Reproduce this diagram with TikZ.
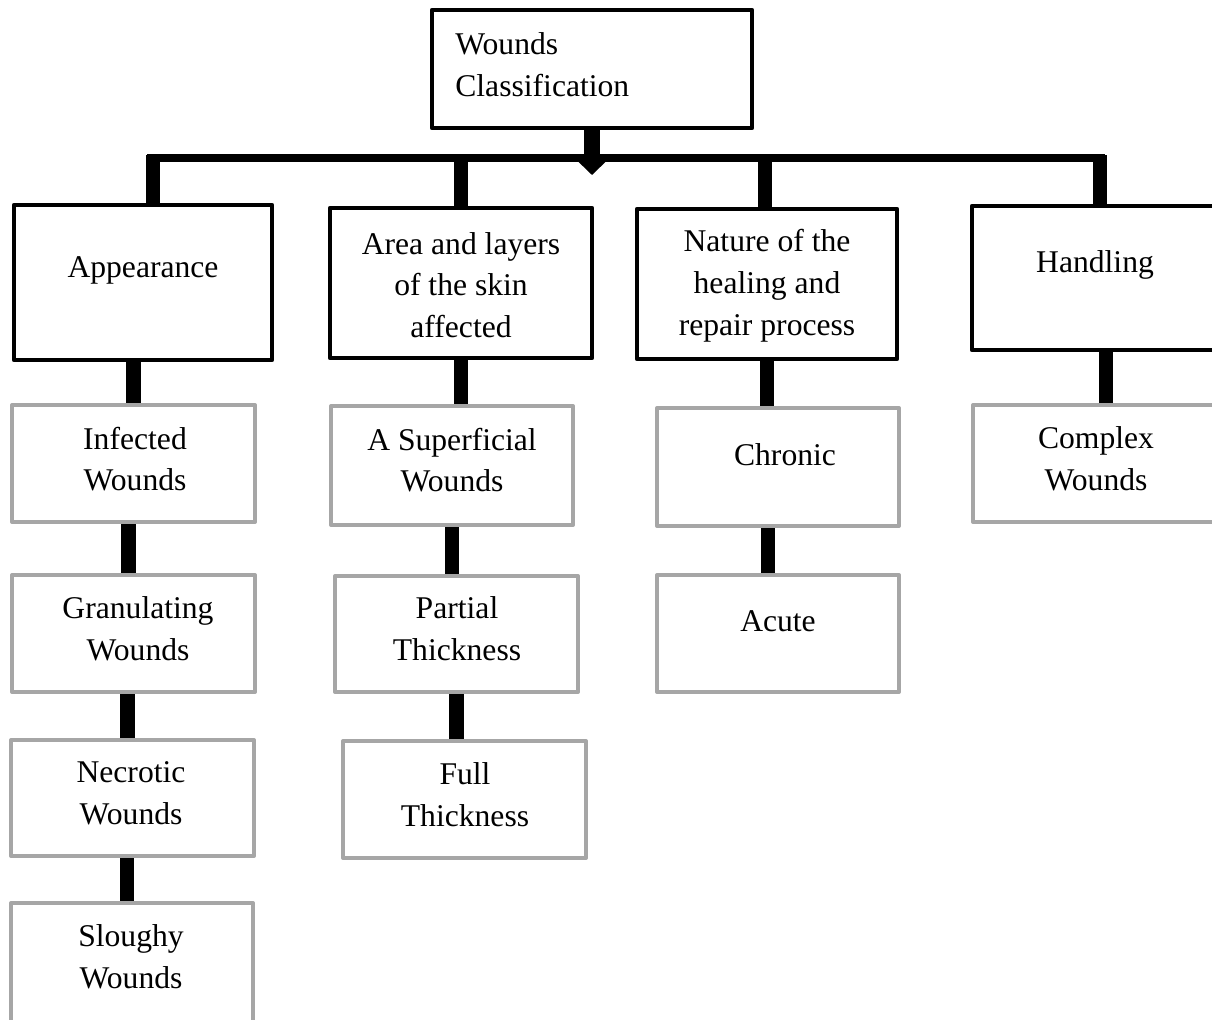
\documentclass[tikz,border=0pt]{standalone}
\usepackage{fontspec}
\setmainfont{Liberation Serif}
\usetikzlibrary{arrows.meta,positioning,fit,calc}

\definecolor{itemgray}{HTML}{A6A6A6}

\begin{document}
\begin{tikzpicture}[
  x=0.02cm, y=-0.02cm,
  font=\fontsize{18}{23.8}\selectfont,
  topbox/.style={draw,line width=2.7pt,line join=round,inner sep=0pt},
  itembox/.style={draw=itemgray,line width=2.3pt,line join=round,inner sep=0pt},
  lbl/.style={align=center,inner sep=0pt},
  link/.style={line width=8pt},
  bus/.style={line width=4.6pt}
]

% -------------------------
% Page
% -------------------------
\useasboundingbox[fill=white] (0,0) rectangle (1212,1019);

% -------------------------
% Boxes (corners in pixels)
% -------------------------
\node[topbox,fit={(432,10) (752,128)}] (root) {};

% categories
\node[topbox,fit={(14,205) (272,360)}]   (cat-app)  {};
\node[topbox,fit={(330,208) (592,358)}]  (cat-area) {};
\node[topbox,fit={(637,209) (897,359)}]  (cat-heal) {};
\node[topbox,fit={(972,206) (1222,350)}] (cat-hand) {};

% column: appearance
\node[itembox,fit={(12,405) (255,522)}]  (app-inf)  {};
\node[itembox,fit={(12,575) (255,692)}]  (app-gran) {};
\node[itembox,fit={(11,740) (254,856)}]  (app-necr) {};
\node[itembox,fit={(11,903) (253,1030)}] (app-slou) {};

% column: area and layers
\node[itembox,fit={(331,406) (573,525)}] (area-sup)  {};
\node[itembox,fit={(335,576) (578,692)}] (area-part) {};
\node[itembox,fit={(343,741) (586,858)}] (area-full) {};

% column: healing
\node[itembox,fit={(657,408) (899,526)}] (heal-chr) {};
\node[itembox,fit={(657,575) (899,692)}] (heal-acu) {};

% column: handling
\node[itembox,fit={(973,405) (1222,522)}] (hand-cpx) {};

% -------------------------
% Texts
% -------------------------
\node[lbl,align=left,anchor=west] at (455,65) {Wounds\\Classification};

\node[lbl] at (143,270) {Appearance};
\node[lbl] at (461,285) {Area and layers\\of the skin\\affected};
\node[lbl] at (767,286) {Nature of the\\healing and\\repair process};
\node[lbl] at (1095,265) {Handling};

\node[lbl] at (135,459) {Infected\\Wounds};
\node[lbl] at (138,629) {Granulating\\Wounds};
\node[lbl] at (131,793) {Necrotic\\Wounds};
\node[lbl] at (131,957) {Sloughy\\Wounds};

\node[lbl] at (452,460) {A Superficial\\Wounds};
\node[lbl] at (457,629) {Partial\\Thickness};
\node[lbl] at (465,795) {Full\\Thickness};

\node[lbl] at (785,455) {Chronic};
\node[lbl] at (778,621) {Acute};

\node[lbl] at (1096,459) {Complex\\Wounds};

% -------------------------
% Bus and arrow from the root
% -------------------------
\coordinate (bus-l) at (147,158);
\coordinate (bus-r) at (1105,158);
\coordinate (tip)   at (592,175);

\draw[bus] (bus-l) -- (bus-r);
\draw[line width=9.6pt,-{Triangle[width=0.56cm,length=0.28cm]}] (root.south) -- (tip);

% stubs from bus to categories
\foreach \c/\dx in {cat-app/10,cat-area/0,cat-heal/-2,cat-hand/3} {
  \draw[link] ([xshift=\dx*0.02cm,yshift=0.06cm]\c.north |- bus-l) -- ([xshift=\dx*0.02cm]\c.north);
}

% -------------------------
% Vertical links inside columns
% -------------------------
\foreach \u/\v/\dx in {cat-app/app-inf/0,app-inf/app-gran/-5,app-gran/app-necr/-5,app-necr/app-slou/-5,
                       heal-chr/heal-acu/-10} {
  \draw[link] ([xshift=\dx*0.02cm]\v.north |- \u.south) -- ([xshift=\dx*0.02cm]\v.north);
}
\foreach \u/\v in {cat-area/area-sup,area-sup/area-part,area-part/area-full,
                   cat-heal/heal-chr} {
  \draw[link] (\u.south |- \u.south) -- (\u.south |- \v.north);
}
\draw[link] ([xshift=0.18cm]cat-hand.south) -- ([xshift=0.18cm]cat-hand.south |- hand-cpx.north);

\end{tikzpicture}
\end{document}
